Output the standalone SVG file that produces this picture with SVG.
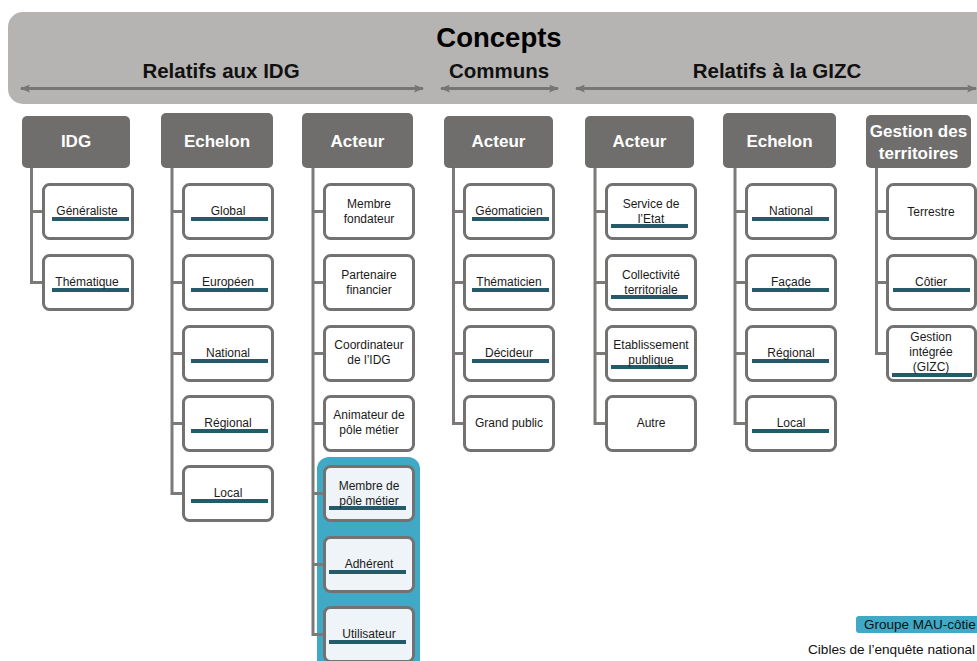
<svg xmlns="http://www.w3.org/2000/svg" width="977" height="661" viewBox="0 0 977 661">
<style>
text{font-family:"Liberation Sans",Arial,sans-serif}
.ttl{font-size:27.5px;font-weight:bold;fill:#000;text-anchor:middle}
.sub{font-size:20.5px;font-weight:bold;fill:#111;text-anchor:middle}
.hdr rect{fill:#6f6e6c}
.hdr text{font-size:17px;font-weight:bold;fill:#fff;text-anchor:middle}
.box rect.b{fill:#fff;stroke:#737271;stroke-width:3}
.box.hl rect.b{fill:#eef4f7}
.box text{font-size:12px;fill:#1a1a1a;text-anchor:middle}
.bar{fill:#245a69}
.conn path{fill:none;stroke:#7b7a79;stroke-width:3}
.arr{stroke:#767675;stroke-width:3;fill:none}
</style>
<defs>
<marker id="ah" viewBox="0 0 10 8" refX="9" refY="4" markerWidth="10" markerHeight="8" markerUnits="userSpaceOnUse" orient="auto-start-reverse">
<path d="M0,0 L10,4 L0,8 L2,4 z" fill="#767675"/>
</marker>
</defs>

<g id="banner">
<rect x="8" y="12" width="1010" height="92" rx="15" fill="#b5b4b2"/>
<text class="ttl" x="499" y="47">Concepts</text>
<text class="sub" x="221" y="78">Relatifs aux IDG</text>
<text class="sub" x="499" y="78">Communs</text>
<text class="sub" x="777" y="78">Relatifs à la GIZC</text>
<line class="arr" x1="21" y1="88.5" x2="423" y2="88.5" marker-start="url(#ah)" marker-end="url(#ah)"/>
<line class="arr" x1="441" y1="88.5" x2="558" y2="88.5" marker-start="url(#ah)" marker-end="url(#ah)"/>
<line class="arr" x1="576" y1="88.5" x2="976" y2="88.5" marker-start="url(#ah)" marker-end="url(#ah)"/>
</g>

<rect id="highlight" x="317" y="457" width="103" height="220" rx="12" fill="#3fa9c6"/>

<g class="conn" id="connectors">
<path d="M31.5 168 V282.5 H43.5 M31.5 211.5 H43.5"/>
<path d="M172 168 V493.5 H183.5 M172 211.5 H183.5 M172 282.5 H183.5 M172 353.5 H183.5 M172 423.5 H183.5"/>
<path d="M313 168 V634.5 H324.5 M313 211.5 H324.5 M313 282.5 H324.5 M313 353.5 H324.5 M313 423.5 H324.5 M313 493.5 H324.5 M313 564.5 H324.5"/>
<path d="M453.5 168 V423.5 H464.5 M453.5 211.5 H464.5 M453.5 282.5 H464.5 M453.5 353.5 H464.5"/>
<path d="M595 168 V423.5 H606.5 M595 211.5 H606.5 M595 282.5 H606.5 M595 353.5 H606.5"/>
<path d="M735 168 V423.5 H746.5 M735 211.5 H746.5 M735 282.5 H746.5 M735 353.5 H746.5"/>
<path d="M876.5 168 V353.5 H887.5 M876.5 211.5 H887.5 M876.5 282.5 H887.5"/>
</g>

<!-- Headers -->
<g class="hdr" id="h-idg"><rect x="22" y="116" width="108" height="52" rx="5"/><text x="76" y="147">IDG</text></g>
<g class="hdr" id="h-echelon1"><rect x="161" y="113" width="112" height="55" rx="5"/><text x="217" y="147">Echelon</text></g>
<g class="hdr" id="h-acteur1"><rect x="302" y="113" width="111" height="55" rx="5"/><text x="357.5" y="147">Acteur</text></g>
<g class="hdr" id="h-acteur2"><rect x="444" y="116" width="109" height="52" rx="5"/><text x="498.5" y="147">Acteur</text></g>
<g class="hdr" id="h-acteur3"><rect x="585" y="116" width="109" height="52" rx="5"/><text x="639.5" y="147">Acteur</text></g>
<g class="hdr" id="h-echelon2"><rect x="723" y="113" width="113" height="55" rx="5"/><text x="779.5" y="147">Echelon</text></g>
<g class="hdr" id="h-gestion"><rect x="866" y="115" width="105" height="53" rx="5"/><text x="918.5" y="137">Gestion des</text><text x="918.5" y="159">territoires</text></g>

<!-- Column 1 -->
<g class="box" id="c1-generaliste"><rect class="b" x="43.5" y="184.5" width="89" height="54" rx="6"/><rect class="bar" x="52" y="217" width="77" height="4"/><text x="87" y="215">Généraliste</text></g>
<g class="box" id="c1-thematique"><rect class="b" x="43.5" y="255.5" width="89" height="54" rx="6"/><rect class="bar" x="52" y="288" width="77" height="4"/><text x="87" y="286">Thématique</text></g>

<!-- Column 2 -->
<g class="box" id="c2-global"><rect class="b" x="183.5" y="184.5" width="89" height="54" rx="6"/><rect class="bar" x="191" y="217" width="77" height="4"/><text x="228" y="215">Global</text></g>
<g class="box" id="c2-europeen"><rect class="b" x="183.5" y="255.5" width="89" height="54" rx="6"/><rect class="bar" x="191" y="288" width="77" height="4"/><text x="228" y="286">Européen</text></g>
<g class="box" id="c2-national"><rect class="b" x="183.5" y="326.5" width="89" height="54" rx="6"/><rect class="bar" x="191" y="359" width="77" height="4"/><text x="228" y="357">National</text></g>
<g class="box" id="c2-regional"><rect class="b" x="183.5" y="396.5" width="89" height="54" rx="6"/><rect class="bar" x="191" y="429" width="77" height="4"/><text x="228" y="427">Régional</text></g>
<g class="box" id="c2-local"><rect class="b" x="183.5" y="466.5" width="89" height="54" rx="6"/><rect class="bar" x="191" y="499" width="77" height="4"/><text x="228" y="497">Local</text></g>

<!-- Column 3 -->
<g class="box" id="c3-fondateur"><rect class="b" x="324.5" y="184.5" width="89" height="54" rx="6"/><text x="369" y="208">Membre</text><text x="369" y="223">fondateur</text></g>
<g class="box" id="c3-partenaire"><rect class="b" x="324.5" y="255.5" width="89" height="54" rx="6"/><text x="369" y="279">Partenaire</text><text x="369" y="294">financier</text></g>
<g class="box" id="c3-coordinateur"><rect class="b" x="324.5" y="326.5" width="89" height="54" rx="6"/><text x="369" y="349">Coordinateur</text><text x="369" y="364">de l’IDG</text></g>
<g class="box" id="c3-animateur"><rect class="b" x="324.5" y="396.5" width="89" height="54" rx="6"/><text x="369" y="419">Animateur de</text><text x="369" y="434">pôle métier</text></g>
<g class="box hl" id="c3-membre-pole"><rect class="b" x="324.5" y="466.5" width="89" height="54" rx="6"/><rect class="bar" x="329" y="506" width="77" height="4"/><text x="369" y="490">Membre de</text><text x="369" y="505">pôle métier</text></g>
<g class="box hl" id="c3-adherent"><rect class="b" x="324.5" y="537.5" width="89" height="54" rx="6"/><rect class="bar" x="329" y="570" width="77" height="4"/><text x="369" y="568">Adhérent</text></g>
<g class="box hl" id="c3-utilisateur"><rect class="b" x="324.5" y="607.5" width="89" height="54" rx="6"/><rect class="bar" x="329" y="640" width="77" height="4"/><text x="369" y="638">Utilisateur</text></g>

<!-- Column 4 -->
<g class="box" id="c4-geomaticien"><rect class="b" x="464.5" y="184.5" width="89" height="54" rx="6"/><rect class="bar" x="472" y="217" width="77" height="4"/><text x="509" y="215">Géomaticien</text></g>
<g class="box" id="c4-thematicien"><rect class="b" x="464.5" y="255.5" width="89" height="54" rx="6"/><rect class="bar" x="472" y="288" width="77" height="4"/><text x="509" y="286">Thématicien</text></g>
<g class="box" id="c4-decideur"><rect class="b" x="464.5" y="326.5" width="89" height="54" rx="6"/><rect class="bar" x="472" y="359" width="77" height="4"/><text x="509" y="357">Décideur</text></g>
<g class="box" id="c4-grandpublic"><rect class="b" x="464.5" y="396.5" width="89" height="54" rx="6"/><text x="509" y="427">Grand public</text></g>

<!-- Column 5 -->
<g class="box" id="c5-etat"><rect class="b" x="606.5" y="184.5" width="89" height="54" rx="6"/><rect class="bar" x="611" y="224" width="77" height="4"/><text x="651" y="208">Service de</text><text x="651" y="223">l’Etat</text></g>
<g class="box" id="c5-collectivite"><rect class="b" x="606.5" y="255.5" width="89" height="54" rx="6"/><rect class="bar" x="611" y="295" width="77" height="4"/><text x="651" y="279">Collectivité</text><text x="651" y="294">territoriale</text></g>
<g class="box" id="c5-etablissement"><rect class="b" x="606.5" y="326.5" width="89" height="54" rx="6"/><rect class="bar" x="611" y="365" width="77" height="4"/><text x="651" y="349">Etablissement</text><text x="651" y="364">publique</text></g>
<g class="box" id="c5-autre"><rect class="b" x="606.5" y="396.5" width="89" height="54" rx="6"/><text x="651" y="427">Autre</text></g>

<!-- Column 6 -->
<g class="box" id="c6-national"><rect class="b" x="746.5" y="184.5" width="89" height="54" rx="6"/><rect class="bar" x="752" y="217" width="77" height="4"/><text x="791" y="215">National</text></g>
<g class="box" id="c6-facade"><rect class="b" x="746.5" y="255.5" width="89" height="54" rx="6"/><rect class="bar" x="752" y="288" width="77" height="4"/><text x="791" y="286">Façade</text></g>
<g class="box" id="c6-regional"><rect class="b" x="746.5" y="326.5" width="89" height="54" rx="6"/><rect class="bar" x="752" y="359" width="77" height="4"/><text x="791" y="357">Régional</text></g>
<g class="box" id="c6-local"><rect class="b" x="746.5" y="396.5" width="89" height="54" rx="6"/><rect class="bar" x="752" y="429" width="77" height="4"/><text x="791" y="427">Local</text></g>

<!-- Column 7 -->
<g class="box" id="c7-terrestre"><rect class="b" x="887.5" y="184.5" width="88" height="54" rx="6"/><text x="931" y="216">Terrestre</text></g>
<g class="box" id="c7-cotier"><rect class="b" x="887.5" y="255.5" width="88" height="54" rx="6"/><rect class="bar" x="893" y="288" width="77" height="4"/><text x="931" y="286">Côtier</text></g>
<g class="box" id="c7-gizc"><rect class="b" x="887.5" y="326.5" width="88" height="54" rx="6"/><rect class="bar" x="892" y="373" width="80" height="4"/><text x="931" y="341">Gestion</text><text x="931" y="356">intégrée</text><text x="931" y="371">(GIZC)</text></g>

<!-- Legend -->
<g id="legend">
<rect x="856" y="616" width="130" height="17" rx="3" fill="#3fa9c6"/>
<text x="864" y="629" font-size="13.5" fill="#111">Groupe MAU-côtie</text>
<text x="808" y="654" font-size="13.6" fill="#111">Cibles de l’enquête national</text>
</g>
</svg>
